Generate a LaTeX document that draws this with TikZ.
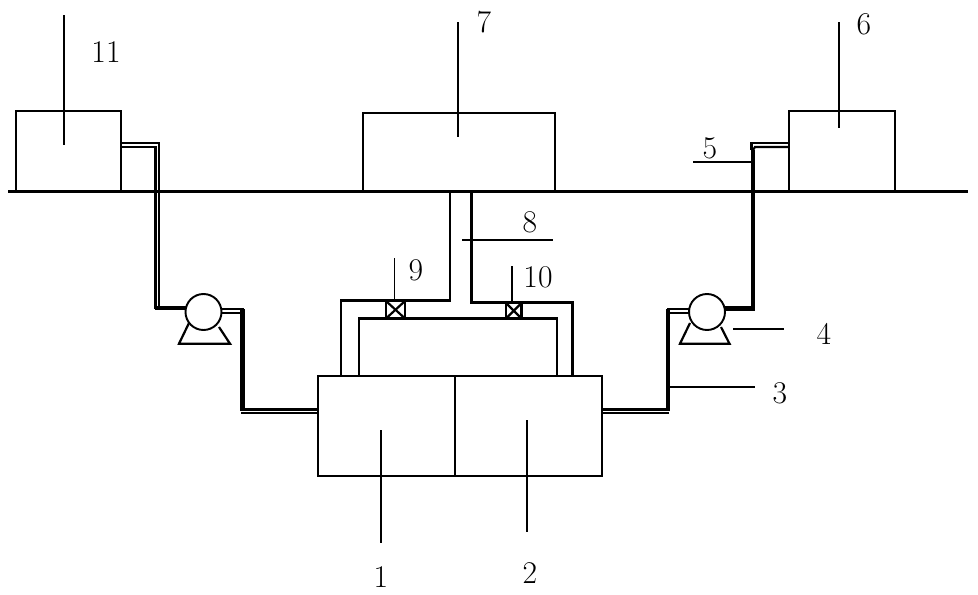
\documentclass[tikz,border=0pt]{standalone}
\usepackage{amsmath}
\tikzset{
  wall/.style={black, line width=1.2pt},
  pipe/.style={black, line width=1.25pt},
  heavy/.style={black, line width=2.4pt},
  leader/.style={black, line width=0.9pt},
  num/.style={font=\fontsize{18}{20}\selectfont, inner sep=0pt},
  pumpbody/.style={circle, draw=black, line width=1.1pt, fill=white, minimum size=36*0.02cm, inner sep=0pt}
}
\begin{document}
\begin{tikzpicture}[x=0.02cm, y=-0.02cm]
    \useasboundingbox (0,0) rectangle (978,595);
    % ground
    \draw[black, line width=2pt] (8,191.5) -- (968,191.5);

    % tanks
    \draw[wall] (16,191.5) -- (16,111) -- (121,111) -- (121,191.5);
    \draw[wall] (363,191.5) -- (363,113) -- (555,113) -- (555,191.5);
    \draw[wall] (789,191.5) -- (789,111) -- (895,111) -- (895,191.5);
    \draw[wall] (318,376) rectangle (602,476);
    \draw[wall] (455,376) -- (455,476);

    % left pipe
    \draw[pipe] (121,143) -- (159,143) -- (159,306);
    \draw[pipe] (121,147) -- (155.5,147) -- (155.5,309);
    \draw[heavy] (155,308) -- (186,308);
    \draw[pipe] (221,309) -- (244,309);
    \draw[pipe] (221,313) -- (241,313);
    \draw[heavy] (242.5,309) -- (242.5,411);
    \draw[pipe] (241,413) -- (318,413);
    \draw[pipe] (241,409.5) -- (318,409.5);

    % right pipe
    \draw[heavy] (725,308.5) -- (753,308.5) -- (753,150);
    \draw[pipe] (753,150) -- (755,147) -- (789,147);
    \draw[pipe] (751.5,150) -- (751.5,143) -- (789,143);
    \draw[pipe] (689,309) -- (667,309);
    \draw[pipe] (689,313) -- (669,313);
    \draw[heavy] (668,309) -- (668,411);
    \draw[pipe] (669,413) -- (602,413);
    \draw[pipe] (669,409.5) -- (602,409.5);

    % middle pipes
    \draw[pipe] (450,191.5) -- (450,300.5) -- (341,300.5) -- (341,376);
    \draw[pipe] (471.5,191.5) -- (471.5,302.5) -- (572.5,302.5) -- (572.5,376);
    \draw[pipe] (359,376) -- (359,318.5) -- (557,318.5) -- (557,376);

    % valves
    \draw[pipe] (386,301) rectangle (405,318.5);
    \draw[pipe] (386,301) -- (405,318.5);
    \draw[pipe] (405,301) -- (386,318.5);
    \draw[pipe] (506,303) rectangle (521.5,318.5);
    \draw[pipe] (506,303) -- (521.5,318.5);
    \draw[pipe] (521.5,303) -- (506,318.5);

    % pumps
    \draw[pipe] (189,323) -- (179,343.7) -- (230,343.7) -- (219,327);
    \node[pumpbody] (pumpL) at (203.5,312) {};
    \draw[pipe] (690,323) -- (680,343.7) -- (729.5,343.7) -- (721,327);
    \node[pumpbody] (pumpR) at (707,312) {};

    % leaders
    \draw[leader] (64,15) -- (64,145);
    \draw[leader] (458,22) -- (458,137);
    \draw[leader] (839,22) -- (839,128);
    \draw[leader] (693,162) -- (752,162);
    \draw[leader] (733,329) -- (784,329);
    \draw[leader] (670,387) -- (755,387);
    \draw[leader] (462,240) -- (553,240);
    \draw[leader] (394.5,258) -- (394.5,301);
    \draw[leader] (512,266) -- (512,303);
    \draw[leader] (381,430) -- (381,543);
    \draw[leader] (527,420) -- (527,532);

    % labels
    \node[num] (n11) at (106,52) {11};
    \node[num] (n7) at (484,22) {7};
    \node[num] (n6) at (864,24) {6};
    \node[num] (n5) at (710,148) {5};
    \node[num] (n8) at (530,222) {8};
    \node[num] (n9) at (416,270) {9};
    \node[num] (n10) at (538,277) {10};
    \node[num] (n4) at (824,334) {4};
    \node[num] (n3) at (780,393) {3};
    \node[num] (n1) at (381,577) {1};
    \node[num] (n2) at (530,573) {2};
\end{tikzpicture}
\end{document}
